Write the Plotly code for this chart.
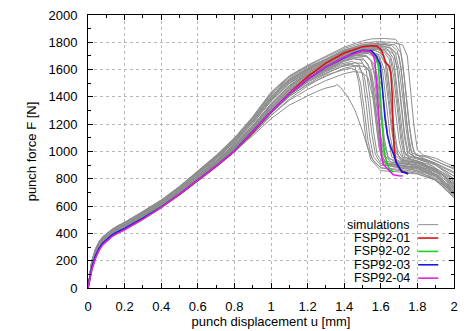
import plotly.graph_objects as go

# ---------------- data ----------------
GX = [0, 0.01, 0.02, 0.04, 0.06, 0.08, 0.1, 0.13, 0.16, 0.2, 0.3, 0.4, 0.5, 0.6,
      0.7, 0.8, 0.9, 1.0, 1.1, 1.2]

sim_rise_F = [
    [0, 105, 195, 285, 340, 376, 398, 430, 455, 482, 562, 645, 745, 855, 972, 1100, 1255, 1435, 1555, 1632],
    [0, 98, 188, 280, 336, 372, 395, 426, 451, 478, 556, 640, 738, 848, 962, 1090, 1240, 1415, 1535, 1612],
    [0, 102, 190, 278, 332, 369, 391, 423, 449, 476, 553, 636, 734, 843, 956, 1082, 1230, 1400, 1525, 1605],
    [0, 95, 180, 270, 325, 362, 385, 417, 442, 470, 547, 628, 724, 832, 944, 1066, 1205, 1370, 1500, 1585],
    [0, 100, 186, 274, 329, 366, 389, 420, 446, 473, 550, 632, 729, 838, 950, 1075, 1220, 1385, 1512, 1595],
    [0, 92, 176, 265, 320, 358, 381, 413, 438, 466, 543, 623, 718, 825, 935, 1055, 1190, 1350, 1485, 1575],
    [0, 97, 182, 268, 322, 359, 382, 414, 439, 467, 541, 620, 714, 820, 930, 1050, 1185, 1345, 1478, 1565],
    [0, 90, 172, 262, 316, 354, 378, 410, 435, 462, 537, 616, 710, 814, 923, 1040, 1175, 1330, 1462, 1552],
    [0, 94, 175, 262, 314, 351, 375, 406, 431, 458, 534, 612, 706, 809, 918, 1035, 1168, 1322, 1452, 1540],
    [0, 88, 167, 256, 309, 347, 371, 403, 428, 455, 530, 608, 701, 803, 910, 1026, 1158, 1308, 1438, 1528],
    [0, 91, 170, 257, 309, 346, 370, 401, 426, 453, 528, 606, 699, 800, 907, 1022, 1152, 1300, 1430, 1522],
    [0, 86, 164, 253, 306, 344, 368, 399, 424, 451, 526, 603, 696, 797, 903, 1017, 1146, 1292, 1422, 1515],
    [0, 84, 160, 248, 301, 339, 364, 396, 421, 448, 522, 600, 693, 793, 898, 1011, 1140, 1285, 1412, 1508],
    [0, 93, 174, 260, 312, 350, 374, 405, 431, 458, 533, 611, 703, 802, 900, 1002, 1115, 1240, 1340, 1410],
    [0, 89, 168, 255, 308, 346, 370, 402, 427, 454, 529, 607, 700, 800, 902, 1010, 1130, 1265, 1375, 1455],
    [0, 87, 165, 252, 304, 342, 366, 398, 423, 450, 525, 603, 696, 796, 900, 1012, 1140, 1285, 1405, 1490],
    [0, 99, 184, 271, 326, 363, 386, 418, 443, 471, 548, 629, 725, 833, 945, 1066, 1205, 1368, 1497, 1578],
    [0, 96, 183, 274, 330, 367, 390, 422, 447, 474, 551, 634, 731, 840, 953, 1078, 1222, 1390, 1518, 1598],
    [0, 103, 192, 281, 336, 372, 394, 426, 452, 479, 558, 641, 741, 851, 966, 1093, 1245, 1420, 1545, 1620],
    [0, 101, 193, 283, 338, 374, 396, 428, 453, 480, 560, 643, 742, 852, 968, 1096, 1250, 1428, 1550, 1627],
    [0, 93, 177, 264, 318, 355, 379, 411, 436, 463, 538, 617, 711, 816, 926, 1044, 1180, 1338, 1470, 1560],
    [0, 89, 171, 258, 311, 349, 373, 405, 430, 457, 532, 611, 704, 807, 915, 1031, 1163, 1316, 1448, 1538],
    [0, 92, 173, 259, 311, 348, 372, 404, 429, 456, 531, 609, 703, 805, 913, 1029, 1160, 1312, 1442, 1530],
    [0, 96, 180, 267, 321, 358, 381, 413, 438, 465, 540, 620, 715, 822, 933, 1053, 1190, 1350, 1482, 1568],
    [0, 85, 162, 250, 303, 341, 365, 397, 422, 449, 524, 601, 694, 794, 898, 1008, 1135, 1278, 1402, 1495],
    [0, 100, 187, 276, 331, 368, 391, 422, 448, 475, 552, 634, 731, 841, 954, 1080, 1227, 1395, 1520, 1600],
    [0, 91, 173, 260, 313, 350, 374, 406, 431, 459, 535, 613, 707, 810, 919, 1036, 1170, 1325, 1456, 1545],
    [0, 98, 185, 273, 328, 365, 388, 420, 445, 472, 549, 631, 727, 836, 948, 1070, 1212, 1378, 1505, 1588],
    [0, 97, 184, 275, 331, 368, 391, 423, 448, 475, 553, 636, 734, 844, 957, 1084, 1232, 1404, 1528, 1606],
    [0, 88, 166, 254, 307, 345, 369, 400, 425, 452, 527, 605, 698, 798, 902, 1014, 1142, 1288, 1416, 1510],
    [0, 94, 178, 266, 320, 357, 380, 412, 437, 464, 539, 618, 712, 818, 928, 1047, 1182, 1340, 1472, 1562],
    [0, 86, 163, 251, 304, 342, 366, 398, 423, 450, 525, 602, 695, 795, 897, 1005, 1125, 1262, 1385, 1480],
]

sim_tail_x = [
    [1.3, 1.4, 1.5, 1.55, 1.62, 1.68, 1.70, 1.72, 1.74, 1.76, 1.78, 1.8, 1.85, 1.9, 1.95, 2.0],
    [1.3, 1.4, 1.5, 1.58, 1.64, 1.66, 1.675, 1.69, 1.71, 1.73, 1.75, 1.8, 1.85, 1.9, 1.95, 2.0],
    [1.3, 1.4, 1.5, 1.6, 1.65, 1.68, 1.7, 1.72, 1.74, 1.76, 1.8, 1.85, 1.9, 2.0],
    [1.3, 1.4, 1.5, 1.58, 1.64, 1.67, 1.69, 1.71, 1.73, 1.76, 1.82, 1.9, 2.0],
    [1.3, 1.4, 1.48, 1.55, 1.62, 1.65, 1.67, 1.69, 1.71, 1.73, 1.78, 1.85, 1.92, 2.0],
    [1.3, 1.4, 1.5, 1.56, 1.6, 1.63, 1.65, 1.67, 1.69, 1.72, 1.8, 1.88, 2.0],
    [1.3, 1.4, 1.48, 1.55, 1.59, 1.62, 1.64, 1.66, 1.68, 1.72, 1.8, 1.9, 2.0],
    [1.3, 1.4, 1.47, 1.53, 1.57, 1.6, 1.62, 1.64, 1.66, 1.7, 1.8, 1.9, 2.0],
    [1.3, 1.4, 1.46, 1.52, 1.55, 1.58, 1.6, 1.62, 1.64, 1.7, 1.8, 1.9, 2.0],
    [1.3, 1.4, 1.45, 1.5, 1.53, 1.56, 1.58, 1.6, 1.62, 1.7, 1.8, 1.9, 2.0],
    [1.3, 1.4, 1.45, 1.49, 1.52, 1.54, 1.56, 1.58, 1.61, 1.7, 1.8, 1.9, 2.0],
    [1.3, 1.38, 1.44, 1.48, 1.5, 1.52, 1.54, 1.56, 1.6, 1.7, 1.8, 1.9, 2.0],
    [1.3, 1.38, 1.43, 1.46, 1.48, 1.5, 1.52, 1.545, 1.6, 1.7, 1.8, 1.9, 2.0],
    [1.25, 1.3, 1.35, 1.36, 1.38, 1.42, 1.46, 1.5, 1.53, 1.56, 1.6, 1.7, 1.8, 1.9, 2.0],
    [1.3, 1.4, 1.45, 1.5, 1.53, 1.56, 1.58, 1.6, 1.63, 1.7, 1.8, 1.9, 2.0],
    [1.3, 1.4, 1.47, 1.52, 1.55, 1.57, 1.59, 1.61, 1.64, 1.72, 1.8, 1.9, 2.0],
    [1.3, 1.4, 1.5, 1.58, 1.62, 1.645, 1.66, 1.68, 1.7, 1.72, 1.78, 1.86, 2.0],
    [1.3, 1.4, 1.5, 1.6, 1.66, 1.7, 1.72, 1.74, 1.76, 1.78, 1.84, 1.9, 2.0],
    [1.3, 1.4, 1.5, 1.6, 1.68, 1.71, 1.73, 1.75, 1.77, 1.79, 1.85, 1.92, 2.0],
    [1.3, 1.4, 1.5, 1.58, 1.66, 1.72, 1.745, 1.76, 1.78, 1.8, 1.83, 1.9, 2.0],
    [1.3, 1.4, 1.48, 1.55, 1.6, 1.625, 1.64, 1.66, 1.68, 1.71, 1.8, 1.9, 2.0],
    [1.3, 1.4, 1.46, 1.52, 1.56, 1.58, 1.6, 1.62, 1.64, 1.68, 1.8, 1.9, 2.0],
    [1.3, 1.38, 1.45, 1.51, 1.545, 1.565, 1.585, 1.6, 1.63, 1.7, 1.8, 1.9, 2.0],
    [1.3, 1.4, 1.5, 1.57, 1.61, 1.635, 1.655, 1.675, 1.695, 1.73, 1.8, 1.9, 2.0],
    [1.3, 1.4, 1.46, 1.5, 1.535, 1.55, 1.57, 1.59, 1.61, 1.66, 1.75, 1.85, 2.0],
    [1.3, 1.4, 1.5, 1.57, 1.63, 1.67, 1.69, 1.71, 1.73, 1.75, 1.8, 1.88, 2.0],
    [1.3, 1.4, 1.47, 1.52, 1.545, 1.565, 1.58, 1.6, 1.62, 1.66, 1.75, 1.85, 2.0],
    [1.3, 1.4, 1.5, 1.57, 1.62, 1.655, 1.675, 1.695, 1.715, 1.735, 1.8, 1.9, 2.0],
    [1.3, 1.4, 1.5, 1.6, 1.66, 1.69, 1.71, 1.73, 1.75, 1.77, 1.82, 1.9, 2.0],
    [1.3, 1.38, 1.44, 1.48, 1.51, 1.53, 1.55, 1.57, 1.6, 1.7, 1.8, 1.9, 2.0],
    [1.3, 1.4, 1.49, 1.555, 1.59, 1.61, 1.63, 1.65, 1.67, 1.71, 1.8, 1.9, 2.0],
    [1.3, 1.4, 1.44, 1.47, 1.49, 1.51, 1.53, 1.55, 1.6, 1.7, 1.8, 1.9, 2.0],
]

sim_tail_F = [
    [1700, 1765, 1810, 1825, 1828, 1822, 1790, 1650, 1400, 1150, 1000, 975, 960, 930, 900, 880],
    [1680, 1745, 1780, 1790, 1780, 1730, 1700, 1600, 1350, 1100, 960, 945, 920, 880, 830, 790],
    [1670, 1735, 1770, 1778, 1760, 1720, 1600, 1400, 1150, 980, 955, 935, 900, 820],
    [1650, 1720, 1755, 1760, 1740, 1680, 1450, 1200, 1000, 940, 920, 860, 760],
    [1660, 1730, 1760, 1765, 1745, 1700, 1550, 1300, 1080, 960, 935, 900, 850, 740],
    [1640, 1705, 1740, 1745, 1720, 1660, 1450, 1200, 1020, 950, 925, 880, 730],
    [1630, 1700, 1730, 1728, 1700, 1600, 1380, 1150, 990, 940, 915, 850, 700],
    [1620, 1690, 1720, 1718, 1690, 1560, 1320, 1100, 960, 930, 910, 860, 780],
    [1610, 1680, 1705, 1700, 1660, 1500, 1250, 1050, 950, 925, 900, 840, 680],
    [1600, 1665, 1690, 1685, 1640, 1450, 1200, 1000, 930, 915, 895, 830, 720],
    [1595, 1660, 1680, 1670, 1600, 1400, 1150, 980, 920, 905, 880, 820, 700],
    [1590, 1640, 1660, 1640, 1560, 1350, 1100, 960, 900, 890, 870, 810, 690],
    [1585, 1630, 1645, 1620, 1500, 1300, 1080, 940, 860, 850, 835, 790, 670],
    [1440, 1465, 1480, 1490, 1470, 1400, 1300, 1150, 1020, 930, 880, 860, 840, 790, 700],
    [1520, 1570, 1585, 1580, 1540, 1380, 1150, 980, 900, 880, 860, 790, 660],
    [1550, 1610, 1630, 1620, 1570, 1420, 1180, 990, 910, 895, 880, 820, 710],
    [1640, 1710, 1745, 1748, 1725, 1680, 1560, 1300, 1080, 960, 940, 905, 800],
    [1655, 1725, 1765, 1772, 1755, 1700, 1500, 1220, 1020, 960, 945, 915, 850],
    [1675, 1740, 1785, 1795, 1780, 1720, 1520, 1250, 1050, 975, 960, 920, 870],
    [1690, 1755, 1795, 1805, 1800, 1780, 1700, 1480, 1200, 1010, 975, 950, 890],
    [1620, 1695, 1725, 1730, 1705, 1640, 1450, 1200, 1010, 940, 920, 870, 750],
    [1605, 1675, 1700, 1695, 1650, 1560, 1320, 1090, 960, 920, 900, 850, 740],
    [1600, 1660, 1680, 1670, 1600, 1380, 1120, 990, 910, 900, 885, 830, 720],
    [1630, 1700, 1738, 1740, 1715, 1600, 1350, 1100, 970, 930, 915, 870, 770],
    [1570, 1630, 1650, 1645, 1590, 1480, 1250, 1030, 930, 890, 875, 840, 680],
    [1660, 1730, 1765, 1770, 1755, 1710, 1620, 1380, 1130, 990, 950, 920, 820],
    [1615, 1685, 1712, 1705, 1670, 1560, 1350, 1110, 970, 920, 905, 870, 730],
    [1645, 1715, 1750, 1755, 1735, 1690, 1580, 1320, 1090, 975, 950, 900, 800],
    [1670, 1738, 1775, 1785, 1775, 1740, 1620, 1350, 1120, 990, 960, 910, 840],
    [1575, 1620, 1635, 1620, 1550, 1380, 1140, 980, 910, 895, 875, 820, 700],
    [1625, 1695, 1725, 1722, 1690, 1590, 1350, 1120, 985, 935, 915, 865, 760],
    [1560, 1600, 1610, 1590, 1500, 1300, 1080, 950, 880, 870, 850, 800, 690],
]

exp_names = ["FSP92-01", "FSP92-02", "FSP92-03", "FSP92-04"]
exp_colors = ["#e01010", "#20d020", "#1818e0", "#e020e0"]

red_x = [0, 0.01, 0.02, 0.04, 0.06, 0.08, 0.1, 0.13, 0.16, 0.2, 0.3, 0.4, 0.5, 0.6, 0.7, 0.8, 0.9, 1.0,
         1.1, 1.2, 1.3, 1.4, 1.5, 1.55, 1.58, 1.6, 1.615, 1.625, 1.645, 1.655, 1.662, 1.668, 1.674,
         1.685, 1.71, 1.75]
red_F = [0, 65, 135, 220, 280, 320, 345, 378, 402, 428, 505, 590, 685, 785, 890, 1000, 1140, 1290,
         1428, 1548, 1648, 1722, 1768, 1775, 1770, 1748, 1705, 1655, 1625, 1570, 1420, 1150, 1000,
         915, 862, 835]

green_x = [0, 0.01, 0.02, 0.04, 0.06, 0.08, 0.1, 0.13, 0.16, 0.2, 0.3, 0.4, 0.5, 0.6, 0.7, 0.8, 0.9,
           1.0, 1.1, 1.2, 1.3, 1.4, 1.5, 1.55, 1.575, 1.586, 1.592, 1.6, 1.608, 1.616, 1.625, 1.635,
           1.65, 1.67]
green_F = [0, 72, 142, 230, 287, 327, 352, 387, 410, 437, 513, 595, 690, 792, 896, 1008, 1150, 1295,
           1425, 1532, 1622, 1692, 1740, 1725, 1680, 1640, 1520, 1330, 1160, 1040, 960, 905, 866, 850]

blue_x = [0, 0.01, 0.02, 0.04, 0.06, 0.08, 0.1, 0.13, 0.16, 0.2, 0.3, 0.4, 0.5, 0.6, 0.7, 0.8, 0.9,
          1.0, 1.1, 1.2, 1.3, 1.4, 1.45, 1.5, 1.55, 1.577, 1.596, 1.605, 1.615, 1.623, 1.636, 1.65,
          1.668, 1.687, 1.714, 1.75]
blue_F = [0, 75, 145, 232, 288, 328, 353, 388, 410, 436, 512, 593, 688, 790, 893, 1003, 1145, 1290,
          1420, 1528, 1620, 1690, 1720, 1742, 1738, 1695, 1640, 1520, 1380, 1243, 1121, 1047, 985,
          913, 852, 838]

magenta_x = [0, 0.01, 0.02, 0.04, 0.06, 0.08, 0.1, 0.13, 0.16, 0.2, 0.3, 0.4, 0.5, 0.6, 0.7, 0.8,
             0.9, 1.0, 1.1, 1.2, 1.3, 1.4, 1.5, 1.54, 1.56, 1.568, 1.577, 1.588, 1.596, 1.605, 1.614,
             1.632, 1.668, 1.7, 1.72]
magenta_F = [0, 62, 128, 215, 275, 316, 342, 376, 400, 427, 505, 590, 687, 788, 892, 1002, 1145,
             1290, 1422, 1530, 1620, 1690, 1738, 1735, 1700, 1660, 1500, 1280, 1135, 960, 905, 880,
             830, 822, 820]

x_ticks = [0, 0.2, 0.4, 0.6, 0.8, 1, 1.2, 1.4, 1.6, 1.8, 2]
y_ticks = [0, 200, 400, 600, 800, 1000, 1200, 1400, 1600, 1800, 2000]

# ---------------- figure ----------------
GRAY = "#8e8e8e"
FONT = "Liberation Sans, Arial, sans-serif"

fig = go.Figure()
for rise, tx, tf in zip(sim_rise_F, sim_tail_x, sim_tail_F):
    fig.add_trace(go.Scatter(x=GX + tx, y=rise + tf, mode="lines",
                             line=dict(color=GRAY, width=1), showlegend=False,
                             hoverinfo="skip"))

for name, col, xs, ys in zip(exp_names, exp_colors,
                             [red_x, green_x, blue_x, magenta_x],
                             [red_F, green_F, blue_F, magenta_F]):
    fig.add_trace(go.Scatter(x=xs, y=ys, mode="lines", name=name,
                             line=dict(color=col, width=1.6), showlegend=False))

# gnuplot-style legend (text, then line sample)
leg_labels = ["simulations"] + exp_names
leg_colors = [GRAY] + exp_colors
leg_y = [0.232, 0.183, 0.134, 0.085, 0.036]
for lab, col, yy in zip(leg_labels, leg_colors, leg_y):
    fig.add_annotation(xref="paper", yref="paper", x=0.882, y=yy, text=lab,
                       showarrow=False, xanchor="right", yanchor="middle",
                       borderpad=0, height=12,
                       font=dict(family=FONT, size=12.5, color="black"))
    fig.add_shape(type="line", xref="paper", yref="paper", x0=0.902, x1=0.957,
                  y0=yy, y1=yy, line=dict(color=col, width=1.6 if col != GRAY else 1))

axis_common = dict(
    showline=True, linecolor="black", linewidth=1, mirror="allticks",
    ticks="inside", ticklen=5, tickcolor="black", tickwidth=1,
    showgrid=True, gridcolor="#b8b8b8", griddash="dot", gridwidth=1,
    zeroline=False, automargin=False,
    tickfont=dict(family=FONT, size=13, color="black"),
)

fig.update_xaxes(range=[0, 2], tickvals=x_ticks, ticktext=[f"{v:g}" for v in x_ticks],
                 minor=dict(dtick=0.1, tick0=0, ticklen=3, ticks="inside", tickcolor="black",
                            showgrid=False),
                 title=dict(text="punch displacement u [mm]", font=dict(family=FONT, size=13),
                            standoff=4),
                 ticklabelstandoff=6, **axis_common)
fig.update_yaxes(range=[0, 2000], tickvals=y_ticks, ticktext=[str(v) for v in y_ticks],
                 minor=dict(dtick=100, tick0=0, ticklen=3, ticks="inside", tickcolor="black",
                            showgrid=False),
                 title=dict(text="punch force F [N]", font=dict(family=FONT, size=13),
                            standoff=8),
                 ticklabelstandoff=7, **axis_common)

fig.update_layout(width=474, height=331, margin=dict(l=88, r=20, t=15, b=43),
                  plot_bgcolor="white", paper_bgcolor="white",
                  font=dict(family=FONT, size=13, color="black"))

fig.write_html("out.html")
